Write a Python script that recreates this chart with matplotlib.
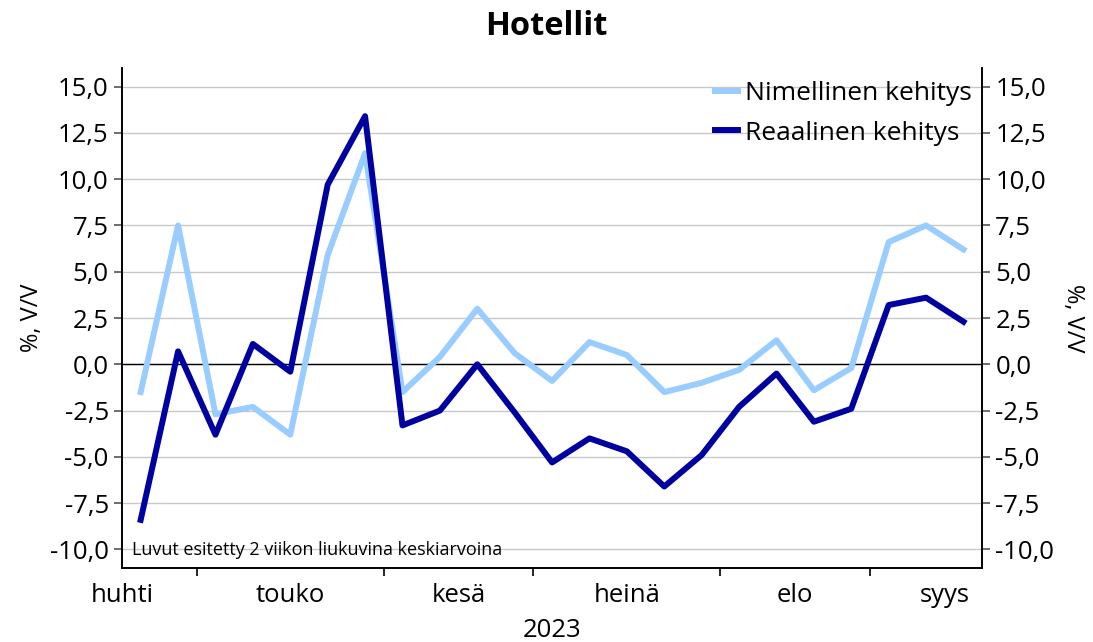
import numpy as np
import matplotlib.pyplot as plt

# weekly points, Apr - Sep 2023 (2-week moving averages)
nimellinen = [-1.5, 7.5, -2.7, -2.3, -3.8, 5.9, 11.4, -1.5, 0.4, 3.0, 0.6, -0.9,
              1.2, 0.5, -1.5, -1.0, -0.3, 1.3, -1.4, -0.2, 6.6, 7.5, 6.2]
reaalinen = [-8.4, 0.7, -3.8, 1.1, -0.4, 9.7, 13.4, -3.3, -2.5, 0.0, -2.6, -5.3,
             -4.0, -4.7, -6.6, -4.9, -2.3, -0.5, -3.1, -2.4, 3.2, 3.6, 2.3]
months = ['huhti', 'touko', 'kesä', 'heinä', 'elo', 'syys']
month_bounds = [-2.5, 1.5, 6.5, 10.5, 15.5, 19.5, 23.5]
yticks = np.arange(-10, 15.1, 2.5)

plt.rcParams['font.family'] = ['Open Sans', 'DejaVu Sans']

fig = plt.figure(figsize=(10.93, 6.42), dpi=100)
ax = fig.add_axes([0.1116, 0.1153, 0.787, 0.7787])

x = np.arange(len(nimellinen))
ax.plot(x, nimellinen, color='#99ccff', lw=4.3, label='Nimellinen kehitys', zorder=3)
ax.plot(x, reaalinen, color='#0000a0', lw=4.3, label='Reaalinen kehitys', zorder=4)

ax.set_xlim(-0.5, 22.5)
ax.set_ylim(-11, 16)
ax.set_yticks(yticks)
ax.set_yticklabels([f'{v:.1f}'.replace('.', ',') for v in yticks])
ax.grid(axis='y', color='#c8c8c8', lw=1)
ax.axhline(0, color='black', lw=1, zorder=2)

# month boundaries as ticks, names centred between them
ax.set_xticks(month_bounds[1:-1])
ax.set_xticklabels([])
centers = [(a + b) / 2 for a, b in zip(month_bounds[:-1], month_bounds[1:])]
ax.set_xticks(centers, minor=True)
ax.set_xticklabels(months, minor=True)
ax.tick_params(axis='x', which='minor', length=0, labelsize=18.5, pad=11)
ax.tick_params(axis='x', which='major', length=6, width=1.2)
ax.tick_params(axis='y', labelsize=18.5, length=6, width=1.2, color='#555555')
ax.set_xlabel('2023', fontsize=18.5, labelpad=7)
ax.set_ylabel('%, V/V', fontsize=17, labelpad=4)

ax2 = ax.twinx()
ax2.set_ylim(ax.get_ylim())
ax2.set_yticks(yticks)
ax2.set_yticklabels([f'{v:.1f}'.replace('.', ',') for v in yticks])
ax2.tick_params(axis='y', labelsize=18.5, length=6, width=1.2, color='#555555')
ax2.set_ylabel('%, V/V', fontsize=17, rotation=270, labelpad=22)

for a in (ax, ax2):
    a.spines['top'].set_visible(False)
    for s in ('left', 'right', 'bottom'):
        a.spines[s].set_linewidth(1.2)

ax.text(0.012, 0.036, 'Luvut esitetty 2 viikon liukuvina keskiarvoina',
        transform=ax.transAxes, fontsize=13, va='center', ha='left')

leg = ax.legend(loc='upper right', frameon=False, fontsize=19, handlelength=0.9,
                handletextpad=0.25, borderaxespad=0.0, labelspacing=0.55,
                bbox_to_anchor=(1.0, 0.995))

fig.suptitle('Hotellit', fontsize=23.5, fontweight='bold', y=0.985)

fig.savefig('out.png', dpi=100)
